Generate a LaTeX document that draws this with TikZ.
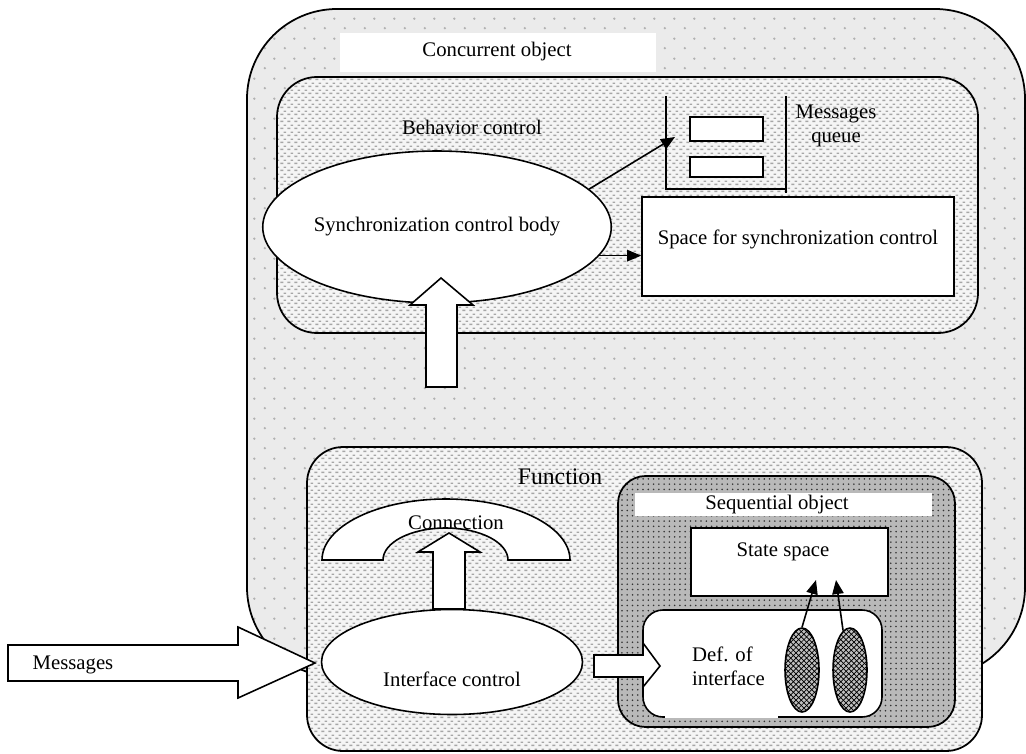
\documentclass[tikz,border=0pt]{standalone}
\usepackage{fontspec}
\setmainfont{Liberation Serif}
\usetikzlibrary{shapes.geometric,arrows.meta,patterns,fit,positioning}

% light dotted background of the concurrent object
\pgfdeclarepatternformonly{sanddots}{\pgfqpoint{0pt}{0pt}}{\pgfqpoint{11.4pt}{11.4pt}}{\pgfqpoint{11.4pt}{11.4pt}}{
  \pgfpathcircle{\pgfqpoint{2.85pt}{2.85pt}}{0.75pt}
  \pgfpathcircle{\pgfqpoint{8.55pt}{8.55pt}}{0.75pt}
  \pgfusepath{fill}}
% short staggered dashes of the inner layers
\pgfdeclarepatternformonly{dashrows}{\pgfqpoint{0pt}{0pt}}{\pgfqpoint{3.8pt}{3.8pt}}{\pgfqpoint{3.8pt}{3.8pt}}{
  \pgfsetlinewidth{0.8pt}
  \pgfpathmoveto{\pgfqpoint{0.2pt}{0.95pt}}\pgfpathlineto{\pgfqpoint{2.0pt}{0.95pt}}
  \pgfpathmoveto{\pgfqpoint{2.1pt}{2.85pt}}\pgfpathlineto{\pgfqpoint{3.7pt}{2.85pt}}
  \pgfusepath{stroke}}

\begin{document}
\begin{tikzpicture}[
    x=0.02cm, y=-0.02cm,
    every node/.style={font=\fontsize{11.8}{13.5}\selectfont},
    outerbox/.style={draw, line width=1pt, rounded corners=1.8cm, inner sep=0pt, preaction={fill=gray!16}, pattern=sanddots, pattern color=gray!60},
    layerbox/.style={draw, line width=1pt, rounded corners=0.8cm, inner sep=0pt, preaction={fill=gray!8}, pattern=dashrows, pattern color=gray!70},
    darkbox/.style={draw, line width=1pt, rounded corners=0.55cm, inner sep=0pt, preaction={fill=gray!55}, pattern=dots, pattern color=black!80},
    whitebox/.style={draw, line width=0.9pt, fill=white, inner sep=0pt},
    band/.style={fill=white, inner sep=0pt},
    oval/.style={ellipse, draw, line width=0.9pt, fill=white, inner sep=0pt},
    hatchoval/.style={ellipse, draw, line width=0.9pt, inner sep=0pt, minimum width=0.68cm, minimum height=1.68cm, preaction={fill=gray!50}, pattern=crosshatch, pattern color=black},
    blockarrow/.style={draw, line width=0.9pt, fill=white, line join=miter},
    arrow/.style={-{Triangle[length=8pt,width=6.5pt]}, line width=0.9pt}
]
\useasboundingbox (0,0) rectangle (1026,753);

% Concurrent object
\node[outerbox, fit={(247,9) (1025,677)}] (concurrent) {};
\node[band, fit={(340,33) (656,72)}] (concband) {};
\node (conclabel) at (497,52) {Concurrent object};

% Behavior control layer
\node[layerbox, fit={(277,77) (978,333)}] (behavior) {};
\node (behlabel) at (472,127) {Behavior control};
\node[oval, minimum width=5.96cm, minimum height=3.04cm] (sync) at (437,227) {Synchronization control body};

% Messages queue
\draw[line width=0.9pt] (666,96) |- (786,189);
\draw[line width=0.9pt] (786,96) -- (786,193);
\node[whitebox, fit={(690,117) (763,141)}] (slot1) {};
\node[whitebox, fit={(690,157) (763,177)}] (slot2) {};
\node[align=center] (qlabel) at (836,126) {Messages\\queue};
\coordinate (qtip) at (675,137);

% Space for synchronization control
\node[whitebox, fit={(642,197) (954,296)}] (syncspace) {Space for synchronization control};

\draw[arrow] (sync.14) -- (qtip);
\draw[arrow] (sync.-10) -- (sync.-10 -| syncspace.west);

% Function -> behavior
\draw[blockarrow] (426,387) -- (426,305) -- (410,305) -- (441,278) -- (473,305) -- (457,305) -- (457,387) -- cycle;

% Function layer
\node[layerbox, rounded corners=0.72cm, fit={(307,447) (982,751)}] (function) {};
\node[font=\fontsize{13.5}{15}\selectfont] (funclabel) at (560,477) {Function};

% Connection
\draw[blockarrow] (322,560) arc[start angle=180, end angle=360, x radius=124, y radius=61]
    -- (508,560) arc[start angle=0, end angle=-180, x radius=62.5, y radius=32] -- cycle;
\node (conn) at (456,523) {Connection};

% Interface control
\node[oval, minimum width=5.22cm, minimum height=2.1cm] (iface) at (452,662) {};
\node (ifacelabel) at (452,679) {Interface control};
\draw[blockarrow] (433,609) -- (433,552) -- (418,552) -- (449,533) -- (480,552) -- (465,552) -- (465,609) -- cycle;

% Sequential object
\node[darkbox, fit={(618,476) (955,727)}] (seqobj) {};
\node[band, fit={(635,493) (932,516)}] (seqband) {};
\node (seqlabel) at (777,505) {Sequential object};
\node[whitebox, fit={(691,528) (888,596)}] (statespace) {};
\node (statelabel) at (783,552) {State space};

% Def. of interface
\node[whitebox, rounded corners=0.4cm, fit={(643,610) (882,717)}] (defiface) {};
\draw[white, line width=1.2pt] (665,717) -- (778,717);
\node[align=left, anchor=west] (deflabel) at (686,666) {Def. of\\interface};
\node[hatchoval] (ovl1) at (802,670) {};
\node[hatchoval] (ovl2) at (850,670) {};
\coordinate (stip1) at (816,580);
\coordinate (stip2) at (836,580);
\draw[arrow] (ovl1.north) -- (stip1);
\draw[arrow] (ovl2.100) -- (stip2);

% Interface control -> Def. of interface
\draw[blockarrow] (594,655) -- (643,655) -- (643,643) -- (660,666) -- (643,687) -- (643,677) -- (594,677) -- cycle;

% incoming messages
\draw[blockarrow] (8,645) -- (238,645) -- (238,627) -- (315,663) -- (238,698) -- (238,681) -- (8,681) -- cycle;
\node (msglabel) at (73,665) {Messages};

\end{tikzpicture}
\end{document}
